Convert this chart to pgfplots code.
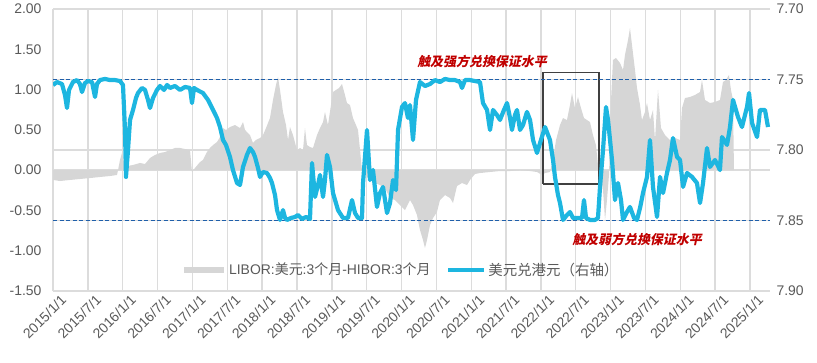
\documentclass[border=0pt]{standalone}
\usepackage{fontspec}
\setmainfont{Liberation Sans}
\newfontfamily\cjk{Noto Sans CJK SC}
\newfontfamily\cjkann{Noto Sans CJK SC}[FakeSlant=0.22]
\usepackage{pgfplots}
\pgfplotsset{compat=1.18}
\definecolor{gridc}{HTML}{DCDCDC}
\definecolor{txt}{HTML}{595959}
\definecolor{hkd}{HTML}{1DB6E0}
\definecolor{band}{HTML}{1F5FAA}
\definecolor{ann}{HTML}{C00000}
\definecolor{spread}{HTML}{D6D6D6}
\definecolor{boxc}{HTML}{404040}

\pgfplotstableread{
x y
2015.000 0
2015.000 -0.122
2015.100 -0.135
2015.244 -0.122
2015.387 -0.110
2015.531 -0.098
2015.674 -0.085
2015.818 -0.073
2015.918 -0.060
2015.933 0
2015.961 0.126
2015.990 0.213
2016.019 0.101
2016.062 0.051
2016.148 0.064
2016.248 0.089
2016.320 0.076
2016.392 0.151
2016.463 0.188
2016.535 0.213
2016.607 0.225
2016.679 0.250
2016.750 0.275
2016.822 0.275
2016.894 0.262
2016.966 0.250
2016.994 -0.023
2017.037 0.027
2017.109 0.101
2017.152 0.126
2017.209 0.225
2017.252 0.275
2017.296 0.312
2017.353 0.349
2017.396 0.411
2017.439 0.523
2017.482 0.498
2017.539 0.535
2017.611 0.560
2017.683 0.523
2017.726 0.597
2017.755 0.498
2017.826 0.436
2017.869 0.337
2017.912 0.374
2017.970 0.399
2018.013 0.436
2018.056 0.523
2018.113 0.647
2018.156 0.871
2018.199 1.057
2018.228 1.156
2018.257 0.995
2018.300 0.721
2018.343 0.560
2018.372 0.374
2018.400 0.535
2018.443 0.436
2018.501 0.250
2018.544 0.275
2018.587 0.250
2018.615 0.523
2018.644 0.312
2018.687 0.287
2018.730 0.275
2018.788 0.436
2018.831 0.523
2018.874 0.597
2018.902 0.721
2018.945 0.560
2018.988 0.808
2019.017 0.970
2019.060 0.995
2019.103 1.019
2019.146 1.069
2019.189 0.933
2019.218 0.833
2019.261 0.808
2019.304 0.647
2019.347 0.560
2019.376 0.498
2019.405 0.250
2019.433 0
2019.476 -0.060
2019.548 -0.122
2019.620 -0.160
2019.691 -0.185
2019.763 -0.222
2019.835 -0.346
2019.907 -0.371
2019.978 -0.433
2020.050 -0.495
2020.122 -0.371
2020.165 -0.433
2020.222 -0.557
2020.265 -0.743
2020.308 -0.867
2020.337 -0.966
2020.366 -0.867
2020.409 -0.681
2020.452 -0.594
2020.509 -0.520
2020.552 -0.371
2020.624 -0.309
2020.696 -0.346
2020.739 -0.408
2020.796 -0.197
2020.868 -0.160
2020.940 -0.185
2020.983 -0.122
2021.054 -0.048
2021.126 -0.036
2021.270 -0.023
2021.413 -0.011
2021.557 -0.011
2021.700 0
2021.844 -0.011
2021.944 -0.023
2022.016 -0.060
2022.059 -0.036
2022.130 -0.023
2022.174 0.126
2022.217 0.374
2022.274 0.560
2022.317 0.647
2022.374 0.622
2022.417 0.808
2022.446 0.957
2022.489 0.771
2022.532 0.908
2022.575 0.771
2022.618 0.647
2022.661 0.622
2022.704 0.597
2022.747 0.436
2022.790 0.312
2022.819 0.064
2022.848 -0.023
2022.891 -0.247
2022.920 -0.619
2022.948 -0.371
2022.977 -0.060
2023.006 0.871
2023.034 1.367
2023.077 1.392
2023.135 1.330
2023.178 1.243
2023.206 1.429
2023.250 1.615
2023.278 1.764
2023.307 1.553
2023.350 1.243
2023.379 1.019
2023.422 0.808
2023.450 0.622
2023.493 0.721
2023.522 0.833
2023.565 0.622
2023.608 0.746
2023.637 0.374
2023.680 0.995
2023.723 0.523
2023.780 0.436
2023.852 0.374
2023.924 0.399
2023.996 0.374
2024.024 0.771
2024.067 0.895
2024.139 0.908
2024.211 0.933
2024.283 0.970
2024.311 1.119
2024.354 0.871
2024.426 0.833
2024.498 0.846
2024.569 0.871
2024.612 1.094
2024.655 1.119
2024.698 1.181
2024.727 0.995
2024.756 0.871
2024.770 0
}\spreadtab

\pgfplotstableread{
x y
2015.000 7.7539
2015.057 7.7518
2015.129 7.7532
2015.172 7.7610
2015.201 7.7702
2015.230 7.7574
2015.287 7.7518
2015.344 7.7504
2015.387 7.7532
2015.416 7.7589
2015.459 7.7525
2015.502 7.7511
2015.560 7.7518
2015.603 7.7624
2015.631 7.7532
2015.674 7.7504
2015.746 7.7496
2015.818 7.7504
2015.890 7.7504
2015.961 7.7511
2016.004 7.7539
2016.033 7.7858
2016.047 7.8191
2016.076 7.8000
2016.105 7.7787
2016.148 7.7716
2016.191 7.7631
2016.219 7.7596
2016.277 7.7560
2016.320 7.7574
2016.363 7.7645
2016.392 7.7702
2016.435 7.7631
2016.492 7.7574
2016.535 7.7546
2016.593 7.7574
2016.636 7.7539
2016.679 7.7560
2016.750 7.7546
2016.822 7.7574
2016.894 7.7553
2016.966 7.7560
2016.994 7.7667
2017.023 7.7560
2017.066 7.7574
2017.152 7.7596
2017.224 7.7645
2017.296 7.7716
2017.353 7.7773
2017.396 7.7837
2017.439 7.7929
2017.482 7.7964
2017.539 7.8049
2017.582 7.8142
2017.640 7.8234
2017.683 7.8248
2017.726 7.8120
2017.783 7.8035
2017.826 7.7986
2017.869 7.8014
2017.898 7.8049
2017.941 7.8127
2017.970 7.8191
2018.013 7.8156
2018.070 7.8163
2018.113 7.8198
2018.142 7.8234
2018.185 7.8319
2018.214 7.8426
2018.257 7.8496
2018.300 7.8426
2018.329 7.8482
2018.357 7.8496
2018.415 7.8482
2018.472 7.8475
2018.515 7.8461
2018.572 7.8489
2018.630 7.8475
2018.687 7.8489
2018.716 7.8092
2018.759 7.8333
2018.802 7.8248
2018.831 7.8177
2018.874 7.8333
2018.902 7.8213
2018.931 7.8035
2018.974 7.8120
2019.017 7.8305
2019.089 7.8426
2019.161 7.8482
2019.232 7.8482
2019.290 7.8355
2019.333 7.8447
2019.376 7.8482
2019.433 7.8482
2019.448 7.8234
2019.505 7.7858
2019.548 7.8213
2019.591 7.8142
2019.648 7.8404
2019.691 7.8305
2019.735 7.8262
2019.792 7.8447
2019.835 7.8376
2019.878 7.8213
2019.921 7.8284
2019.950 7.7858
2020.007 7.7695
2020.050 7.7667
2020.093 7.7773
2020.122 7.7681
2020.165 7.7929
2020.208 7.7645
2020.265 7.7518
2020.337 7.7546
2020.409 7.7532
2020.481 7.7504
2020.552 7.7518
2020.624 7.7496
2020.696 7.7504
2020.767 7.7504
2020.839 7.7518
2020.868 7.7560
2020.911 7.7504
2020.983 7.7504
2021.054 7.7511
2021.126 7.7518
2021.169 7.7667
2021.227 7.7716
2021.270 7.7858
2021.313 7.7716
2021.370 7.7752
2021.413 7.7787
2021.470 7.7716
2021.514 7.7667
2021.557 7.7773
2021.585 7.7858
2021.628 7.7752
2021.657 7.7716
2021.700 7.7858
2021.743 7.7823
2021.800 7.7730
2021.844 7.7787
2021.887 7.7929
2021.944 7.8021
2022.001 7.7929
2022.059 7.7837
2022.130 7.7929
2022.174 7.8071
2022.202 7.8191
2022.245 7.8319
2022.274 7.8376
2022.317 7.8496
2022.374 7.8461
2022.417 7.8440
2022.460 7.8482
2022.532 7.8482
2022.590 7.8482
2022.618 7.8355
2022.647 7.8482
2022.704 7.8496
2022.776 7.8496
2022.819 7.8482
2022.848 7.8262
2022.891 7.8000
2022.934 7.7695
2022.963 7.7787
2023.020 7.8071
2023.063 7.8355
2023.106 7.8234
2023.149 7.8355
2023.178 7.8496
2023.235 7.8440
2023.278 7.8404
2023.336 7.8482
2023.379 7.8496
2023.422 7.8411
2023.465 7.8305
2023.522 7.8191
2023.565 7.7929
2023.608 7.8262
2023.666 7.8475
2023.709 7.8191
2023.752 7.8305
2023.809 7.8163
2023.852 7.8071
2023.895 7.7915
2023.953 7.8049
2023.996 7.8071
2024.039 7.8262
2024.096 7.8163
2024.168 7.8191
2024.239 7.8234
2024.283 7.8376
2024.326 7.8234
2024.383 7.7986
2024.426 7.8120
2024.498 7.8071
2024.569 7.8142
2024.598 7.7908
2024.670 7.7964
2024.713 7.7837
2024.756 7.7645
2024.828 7.7766
2024.885 7.7837
2024.957 7.7695
2024.986 7.7596
2025.029 7.7808
2025.101 7.7908
2025.143 7.7716
2025.215 7.7716
2025.258 7.7837
}\hkdtab

\begin{document}
\begin{tikzpicture}[x=1bp,y=1bp]
\useasboundingbox (0,0) rectangle (817,362);
\pgfplotsset{
  common/.style={
    at={(53bp,71bp)}, anchor=south west,
    scale only axis, width=717bp, height=282bp,
    xmin=2015, xmax=2025.287,
    axis line style={draw=none},
    major tick length=0pt,
    tick label style={font=\fontsize{14}{14}\selectfont, text=txt},
    scaled y ticks=false,
    y tick label style={/pgf/number format/fixed, /pgf/number format/fixed zerofill, /pgf/number format/precision=2, /pgf/number format/assume math mode=true},
  }
}
\begin{axis}[common,
  ymin=-1.5, ymax=2,
  ytick={-1.5,-1,-0.5,0,0.5,1,1.5,2},
  y tick label style={anchor=east, xshift=-8bp},
  xtick={2015,2015.5,2016,2016.5,2017,2017.5,2018,2018.5,2019,2019.5,2020,2020.5,2021,2021.5,2022,2022.5,2023,2023.5,2024,2024.5,2025},
  xticklabels={2015/1/1,2015/7/1,2016/1/1,2016/7/1,2017/1/1,2017/7/1,2018/1/1,2018/7/1,2019/1/1,2019/7/1,2020/1/1,2020/7/1,2021/1/1,2021/7/1,2022/1/1,2022/7/1,2023/1/1,2023/7/1,2024/1/1,2024/7/1,2025/1/1},
  x tick label style={rotate=45, anchor=north east, inner sep=0pt, xshift=3bp, yshift=-7bp},
  xmajorgrids,
  extra y ticks={-1.5,-0.625,0,0.25,1.125,2},
  extra y tick labels={},
  extra y tick style={grid=major},
  grid style={gridc, line width=1.4bp},
]
\addplot[fill=spread, draw=none] table[x=x,y=y] {\spreadtab} \closedcycle;
\addplot[boxc, line width=1.6bp] coordinates {(2022.026,-0.17) (2022.834,-0.17) (2022.834,1.21) (2022.026,1.21) (2022.026,-0.17)};
\node[text=ann, font=\fontsize{13}{13}\selectfont\cjkann\bfseries] at (axis cs:2021.155,1.342) {触及强方兑换保证水平};
\node[text=ann, font=\fontsize{13}{13}\selectfont\cjkann\bfseries] at (axis cs:2023.379,-0.867) {触及弱方兑换保证水平};
\end{axis}
\begin{axis}[common,
  ymin=7.70, ymax=7.90, y dir=reverse,
  ytick={7.70,7.75,7.80,7.85,7.90},
  yticklabel pos=right,
  y tick label style={anchor=west, xshift=3bp},
  xtick=\empty,
  legend columns=2,
  legend style={at={(0.485,0.075)}, anchor=center, draw=none, fill=none,
    font=\fontsize{14}{14}\selectfont, text=txt, inner sep=0pt,
    /tikz/every even column/.append style={column sep=14bp}},
]
\addlegendimage{legend image code/.code={\draw[spread, line width=6bp] (0bp,0bp) -- (40bp,0bp);}}
\addlegendentry{LIBOR:{\cjk 美元}:3{\cjk 个月}-HIBOR:3{\cjk 个月}}
\addplot[band, line width=1.1bp, dash pattern=on 4bp off 2.5bp, forget plot] coordinates {(2015,7.75) (2025.287,7.75)};
\addplot[band, line width=1.1bp, dash pattern=on 4bp off 2.5bp, forget plot] coordinates {(2015,7.85) (2025.287,7.85)};
\addplot[hkd, line width=4.2bp, line join=round,
  legend image code/.code={\draw[hkd, line width=3.8bp] (0bp,0bp) -- (36bp,0bp);}] table[x=x,y=y] {\hkdtab};
\addlegendentry{{\fontsize{14.5}{14.5}\selectfont\cjk 美元兑港元（右轴）}}
\end{axis}
\end{tikzpicture}
\end{document}
